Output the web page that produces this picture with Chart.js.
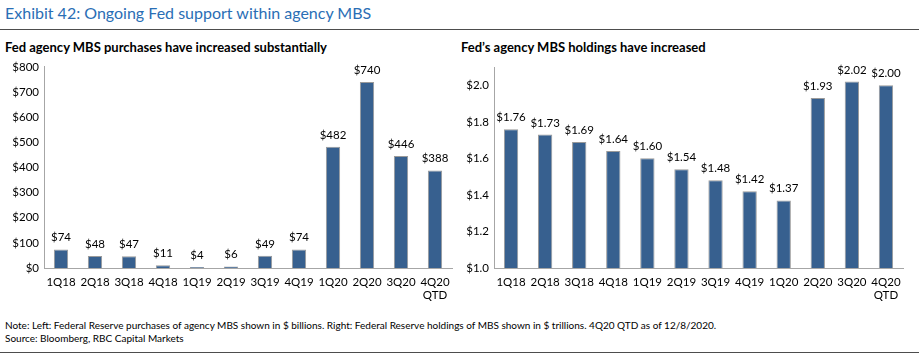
<!DOCTYPE html>
<html>
<head>
<meta charset="utf-8">
<script src="https://cdn.jsdelivr.net/npm/chart.js@4.4.0/dist/chart.umd.min.js"></script>
<style>
  html, body { margin: 0; padding: 0; background: #fff; }
  body { width: 919px; height: 355px; position: relative; overflow: hidden; font-family: Lato, "Open Sans", sans-serif; }
  #title { position: absolute; left: 5px; top: 3px; font-size: 16px; color: #2a6eb5; white-space: nowrap; }
  #rule1 { position: absolute; left: 0; top: 29px; width: 919px; height: 1px; background: #4d4d4d; }
  .sub { position: absolute; top: 39px; font-size: 13px; font-weight: bold; color: #000; white-space: nowrap; }
  #subL { left: 5px; }
  #subR { left: 461px; }
  .box { position: absolute; top: 55px; height: 250px; }
  #boxL { left: 0; width: 460px; }
  #boxR { left: 460px; width: 459px; }
  #note { position: absolute; left: 5px; top: 319px; font-size: 10px; color: #000; line-height: 13px; white-space: nowrap; }
  #rule2 { position: absolute; left: 0; top: 352px; width: 919px; height: 1px; background: #4d4d4d; }
</style>
</head>
<body>
<div id="title">Exhibit 42: Ongoing Fed support within agency MBS</div>
<div id="rule1"></div>
<div class="sub" id="subL">Fed agency MBS purchases have increased substantially</div>
<div class="sub" id="subR">Fed’s agency MBS holdings have increased</div>
<div class="box" id="boxL"><canvas id="cL"></canvas></div>
<div class="box" id="boxR"><canvas id="cR"></canvas></div>
<div id="note">Note: Left: Federal Reserve purchases of agency MBS shown in $ billions. Right: Federal Reserve holdings of MBS shown in $ trillions. 4Q20 QTD as of 12/8/2020.<br>Source: Bloomberg, RBC Capital Markets</div>
<div id="rule2"></div>
<script>
const categories = ['1Q18','2Q18','3Q18','4Q18','1Q19','2Q19','3Q19','4Q19','1Q20','2Q20','3Q20',['4Q20','QTD']];
const purchases = [74, 48, 47, 11, 4, 6, 49, 74, 482, 740, 446, 388];
const holdings = [1.76, 1.73, 1.69, 1.64, 1.60, 1.54, 1.48, 1.42, 1.37, 1.93, 2.02, 2.00];
const leftTicks = [0, 100, 200, 300, 400, 500, 600, 700, 800];
const rightTicks = [1.0, 1.2, 1.4, 1.6, 1.8, 2.0];

const FONT = 'Lato, "Open Sans", sans-serif';
const BAR = '#37608f';
const BORDER = '#9a9a9a';
const AXIS = '#a6a6a6';

const labelPlugin = {
  id: 'barLabels',
  afterDatasetsDraw(chart, args, opts) {
    const ctx = chart.ctx;
    ctx.save();
    ctx.font = '11.5px ' + FONT;
    ctx.fillStyle = '#000';
    ctx.textAlign = 'center';
    ctx.textBaseline = 'bottom';
    const meta = chart.getDatasetMeta(0);
    const data = chart.data.datasets[0].data;
    meta.data.forEach((el, i) => {
      ctx.fillText(opts.fmt(data[i]), el.x, el.y - 6);
    });
    ctx.restore();
  }
};

function makeChart(id, values, tickList, min, max, fmtTick, fmtLabel, yWidth, padRight, padTop) {
  return new Chart(document.getElementById(id), {
    type: 'bar',
    data: {
      labels: categories,
      datasets: [{
        data: values,
        backgroundColor: BAR,
        borderColor: BORDER,
        borderWidth: 1,
        barPercentage: 0.42,
        categoryPercentage: 1.0
      }]
    },
    options: {
      responsive: true,
      maintainAspectRatio: false,
      animation: false,
      layout: { padding: { left: 0, right: padRight, top: padTop, bottom: 0 } },
      plugins: {
        legend: { display: false },
        tooltip: { enabled: false },
        barLabels: { fmt: fmtLabel }
      },
      scales: {
        x: {
          grid: { display: false, drawTicks: false },
          border: { display: true, color: AXIS, width: 1 },
          ticks: { color: '#000', font: { family: FONT, size: 11.5 }, padding: 7, maxRotation: 0, autoSkip: false },
          afterFit(s) { s.height = 37; }
        },
        y: {
          min: min, max: max,
          grid: { display: false, drawTicks: false },
          border: { display: true, color: AXIS, width: 1 },
          ticks: { color: '#000', font: { family: FONT, size: 11.5 }, padding: 5, callback: fmtTick },
          afterBuildTicks(s) { s.ticks = tickList.map(v => ({ value: v })); },
          afterFit(s) { s.width = yWidth; }
        }
      }
    },
    plugins: [labelPlugin]
  });
}

makeChart('cL', purchases, leftTicks, 0, 800, v => '$' + v, v => '$' + v, 44, 8, 10);
makeChart('cR', holdings, rightTicks, 1.0, 2.1, v => '$' + Number(v).toFixed(1), v => '$' + v.toFixed(2), 34, 16, 12);
</script>
</body>
</html>
